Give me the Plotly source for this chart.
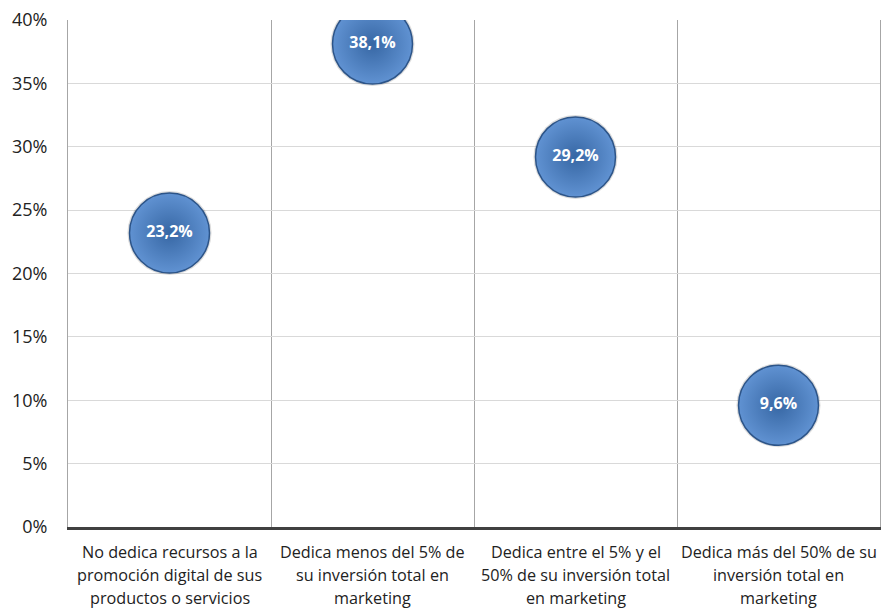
import plotly.graph_objects as go

categories = [
    "No dedica recursos a la<br>promoción digital de sus<br>productos o servicios",
    "Dedica menos del 5% de<br>su inversión total en<br>marketing",
    "Dedica entre el 5% y el<br>50% de su inversión total<br>en marketing",
    "Dedica más del 50% de su<br>inversión total en<br>marketing",
]
values = [0.232, 0.381, 0.292, 0.096]
y_ticks = [0, 0.05, 0.10, 0.15, 0.20, 0.25, 0.30, 0.35, 0.40]

fig = go.Figure()
# soft shadow
fig.add_trace(go.Scatter(
    x=categories, y=values, mode="markers",
    marker=dict(size=84, color="rgba(60,60,60,0.18)", line=dict(width=0)),
    hoverinfo="skip", showlegend=False,
))
fig.add_trace(go.Scatter(
    x=categories, y=values, mode="markers+text",
    marker=dict(size=80, color="#6092d2",
                gradient=dict(type="radial", color="#3767a4"),
                line=dict(width=1.5, color="#2c5488")),
    text=[f"{v*100:.1f}%".replace(".", ",") for v in values],
    textposition="middle center",
    textfont=dict(family="Open Sans", size=16, color="white", weight="bold"),
    showlegend=False,
))

# multi-line category labels with wider line spacing
line_gap = 23
for cat in categories:
    for j, line in enumerate(cat.split("<br>")):
        fig.add_annotation(
            x=cat, xref="x", y=0, yref="paper", yanchor="middle",
            yshift=-(25 + line_gap * j), text=line, showarrow=False,
            font=dict(family="Open Sans", size=16.2, color="#222"),
        )

fig.update_layout(
    width=881, height=608,
    margin=dict(l=68, r=1, t=20, b=81),
    paper_bgcolor="white", plot_bgcolor="white",
    font=dict(family="Open Sans", size=16, color="#222"),
    separators=",.",
    xaxis=dict(
        type="category", tickson="boundaries", showgrid=True,
        gridcolor="#a6a6a6", gridwidth=1,
        showline=True, linecolor="#404040", linewidth=3,
        ticks="", showticklabels=False, range=[-0.5, 3.5],
        automargin=False,
    ),
    yaxis=dict(
        range=[0, 0.40], tickvals=y_ticks, tickformat=".0%",
        showgrid=True, gridcolor="#d9d9d9", gridwidth=1,
        showline=True, linecolor="#a6a6a6", linewidth=1, mirror=True,
        zeroline=False, ticks="", tickfont=dict(size=18, color="#222"),
        ticklabelstandoff=16, automargin=False,
    ),
)
fig.write_html(
    "out.html",
    config={"displayModeBar": False},
    post_script="document.body.style.margin='0';document.body.style.overflow='hidden';",
)
